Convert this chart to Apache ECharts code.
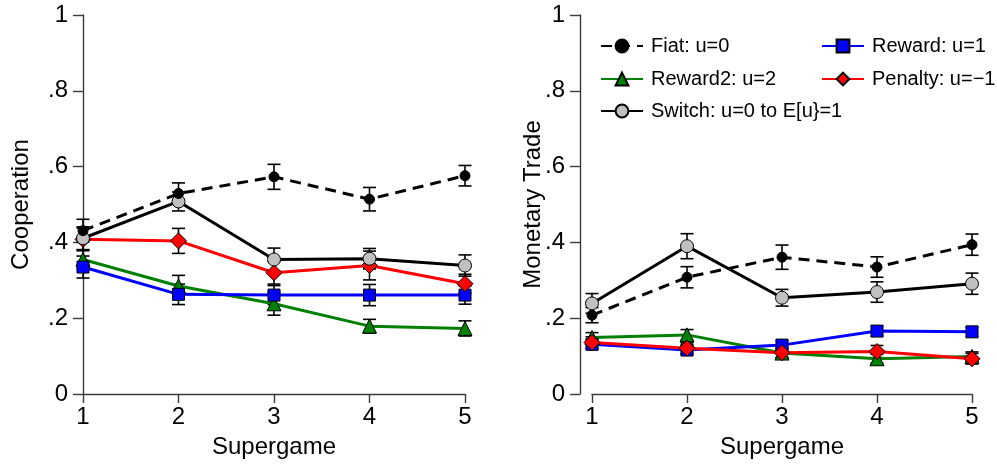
<!DOCTYPE html>
<html>
<head>
<meta charset="utf-8">
<script src="https://cdn.jsdelivr.net/npm/echarts@6/dist/echarts.min.js"></script>
<style>
  html, body { margin: 0; padding: 0; background: #fff; }
  #main { width: 997px; height: 464px; }
</style>
</head>
<body>
<div id="main"></div>
<script>
// supergame index on x axis
var supergames = [1, 2, 3, 4, 5];
var yTicks = ['0', '.2', '.4', '.6', '.8', '1'];

// left panel: cooperation (mean, half-width of error bar)
var coopFiat = [0.431, 0.529, 0.573, 0.514, 0.576];
var coopFiatErr = [0.030, 0.028, 0.033, 0.031, 0.027];
var coopReward = [0.335, 0.263, 0.261, 0.261, 0.261];
var coopRewardErr = [0.029, 0.027, 0.025, 0.028, 0.024];
var coopReward2 = [0.355, 0.285, 0.238, 0.179, 0.173];
var coopReward2Err = [0.025, 0.028, 0.030, 0.018, 0.020];
var coopPenalty = [0.408, 0.404, 0.320, 0.339, 0.291];
var coopPenaltyErr = [0.030, 0.033, 0.030, 0.038, 0.025];
var coopSwitch = [0.411, 0.508, 0.355, 0.357, 0.339];
var coopSwitchErr = [0.030, 0.025, 0.030, 0.027, 0.028];

// right panel: monetary trade
var tradeFiat = [0.208, 0.308, 0.361, 0.335, 0.394];
var tradeFiatErr = [0.020, 0.028, 0.032, 0.027, 0.028];
var tradeReward = [0.131, 0.116, 0.129, 0.166, 0.164];
var tradeRewardErr = [0.012, 0.012, 0.012, 0.013, 0.012];
var tradeReward2 = [0.149, 0.156, 0.108, 0.093, 0.099];
var tradeReward2Err = [0.013, 0.014, 0.012, 0.012, 0.012];
var tradePenalty = [0.136, 0.121, 0.109, 0.112, 0.093];
var tradePenaltyErr = [0.015, 0.014, 0.013, 0.016, 0.014];
var tradeSwitch = [0.239, 0.390, 0.254, 0.269, 0.291];
var tradeSwitchErr = [0.026, 0.033, 0.022, 0.027, 0.028];

var FONT = 'Liberation Sans, Arial, sans-serif';
var AX = '#3a3a3a';

var styles = {
    'Fiat: u=0':              { color: '#000', fill: '#000', symbol: 'circle', size: 10, dash: [11, 7] },
    'Reward: u=1':            { color: '#0000ff', fill: '#0000ff', symbol: 'rect', size: 12, dash: 'solid' },
    'Reward2: u=2':           { color: '#008000', fill: '#008000', symbol: 'triangle', size: 14, dash: 'solid' },
    'Penalty: u=\u22121':     { color: '#ff0000', fill: '#ff0000', symbol: 'diamond', size: 16, dash: 'solid' },
    'Switch: u=0 to E[u}=1':  { color: '#000', fill: '#c0c0c0', symbol: 'circle', size: 13, dash: 'solid' }
};
var names = Object.keys(styles);

function zip(vals) {
    return supergames.map(function (x, i) { return [x, vals[i]]; });
}
function errData(vals, err) {
    return supergames.map(function (x, i) { return [x, vals[i] - err[i], vals[i] + err[i]]; });
}

function renderErr(params, api) {
    var x = api.value(0);
    var lo = api.coord([x, api.value(1)]);
    var hi = api.coord([x, api.value(2)]);
    var w = 6.5;
    var st = { stroke: '#000', lineWidth: 1.6 };
    return {
        type: 'group',
        children: [
            { type: 'line', shape: { x1: lo[0], y1: lo[1], x2: hi[0], y2: hi[1] }, style: st },
            { type: 'line', shape: { x1: lo[0] - w, y1: lo[1], x2: lo[0] + w, y2: lo[1] }, style: st },
            { type: 'line', shape: { x1: hi[0] - w, y1: hi[1], x2: hi[0] + w, y2: hi[1] }, style: st }
        ]
    };
}

function lineSeries(name, vals, idx) {
    var s = styles[name];
    return {
        name: name,
        type: 'line',
        xAxisIndex: idx,
        yAxisIndex: idx,
        data: zip(vals),
        symbol: s.symbol,
        symbolSize: s.size,
        showAllSymbol: true,
        lineStyle: { color: s.color, width: 3, type: s.dash },
        itemStyle: { color: s.fill, borderColor: '#000', borderWidth: 1 },
        emphasis: { disabled: true },
        z: 3,
        animation: false
    };
}

function errSeries(vals, err, idx) {
    return {
        type: 'custom',
        xAxisIndex: idx,
        yAxisIndex: idx,
        data: errData(vals, err),
        renderItem: renderErr,
        z: 2,
        silent: true,
        animation: false
    };
}

function xAxis(idx) {
    return {
        type: 'value',
        gridIndex: idx,
        min: 1, max: 5, interval: 1,
        name: 'Supergame',
        nameLocation: 'middle',
        nameGap: 41,
        nameTextStyle: { fontFamily: FONT, fontSize: 24, color: '#000' },
        axisLine: { lineStyle: { color: AX, width: 1.4 } },
        axisTick: { length: 9, lineStyle: { color: AX, width: 1.4 } },
        axisLabel: { fontFamily: FONT, fontSize: 24, color: '#000', margin: 11 },
        splitLine: { show: false }
    };
}

function yAxis(idx, name, gap, offset) {
    return {
        type: 'value',
        gridIndex: idx,
        min: 0, max: 1, interval: 0.2,
        offset: offset,
        name: name,
        nameLocation: 'middle',
        nameGap: gap,
        nameMoveOverlap: false,
        nameTextStyle: { fontFamily: FONT, fontSize: 24, color: '#000' },
        axisLine: { show: true, lineStyle: { color: AX, width: 1.4 } },
        axisTick: { show: true, length: 10, lineStyle: { color: AX, width: 1.4 } },
        axisLabel: {
            fontFamily: FONT, fontSize: 24, color: '#000', margin: 15,
            formatter: function (v) { return yTicks[Math.round(v * 5)]; }
        },
        splitLine: { show: false }
    };
}

function legendAt(name, left, top) {
    return {
        data: [name],
        left: left,
        top: top,
        padding: 0,
        itemWidth: 42,
        itemHeight: 16,
        selectedMode: false,
        textStyle: { fontFamily: FONT, fontSize: 20, color: '#000', padding: [0, 0, 0, 3] }
    };
}

var coopSets = [coopFiat, coopReward, coopReward2, coopPenalty, coopSwitch];
var coopErrs = [coopFiatErr, coopRewardErr, coopReward2Err, coopPenaltyErr, coopSwitchErr];
var tradeSets = [tradeFiat, tradeReward, tradeReward2, tradePenalty, tradeSwitch];
var tradeErrs = [tradeFiatErr, tradeRewardErr, tradeReward2Err, tradePenaltyErr, tradeSwitchErr];

var series = [];
// draw order: Reward2, Reward, Penalty, Switch, Fiat on top
var order = [2, 1, 3, 4, 0];
order.forEach(function (k) {
    series.push(errSeries(coopSets[k], coopErrs[k], 0));
    series.push(errSeries(tradeSets[k], tradeErrs[k], 1));
});
order.forEach(function (k) {
    series.push(lineSeries(names[k], coopSets[k], 0));
    series.push(lineSeries(names[k], tradeSets[k], 1));
});

var option = {
    backgroundColor: '#fff',
    animation: false,
    grid: [
        { left: 83, right: 532, top: 15, bottom: 68, containLabel: false },
        { left: 592, right: 25, top: 15, bottom: 68, containLabel: false }
    ],
    xAxis: [xAxis(0), xAxis(1)],
    yAxis: [yAxis(0, 'Cooperation', 50, 0), yAxis(1, 'Monetary Trade', 35, 12)],
    legend: [
        legendAt(names[0], 600, 36),
        legendAt(names[1], 821, 36),
        legendAt(names[2], 600, 69),
        legendAt(names[3], 821, 69),
        legendAt(names[4], 600, 101)
    ],
    series: series
};

var myChart = echarts.init(document.getElementById('main'));
myChart.setOption(option);
</script>
</body>
</html>
